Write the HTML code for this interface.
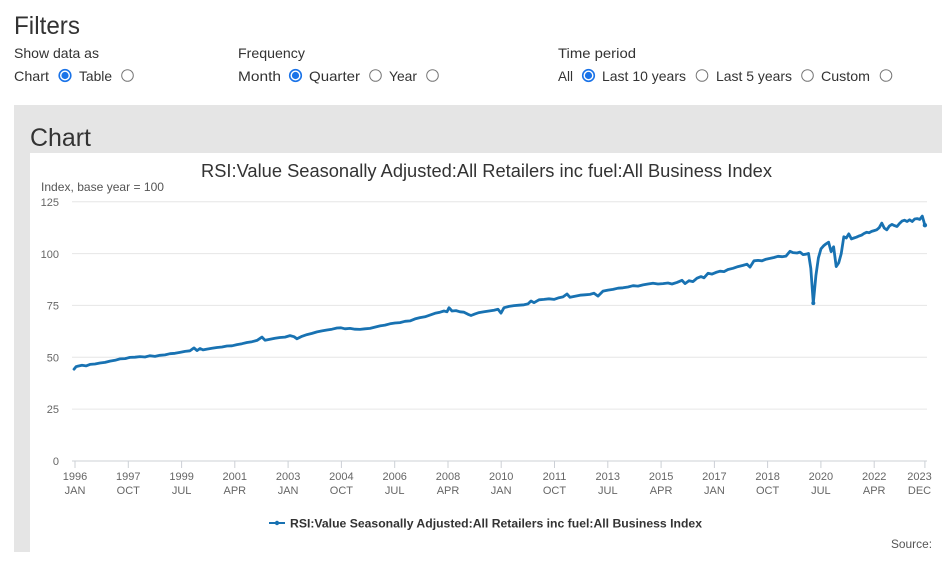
<!DOCTYPE html>
<html>
<head>
<meta charset="utf-8">
<style>
html,body{margin:0;padding:0;background:#fff;width:945px;height:564px;overflow:hidden;}
svg{display:block;}
text{font-family:"Liberation Sans",sans-serif;}
</style>
</head>
<body>
<svg width="945" height="564" viewBox="0 0 945 564" xmlns="http://www.w3.org/2000/svg">
  <!-- Filters header -->
  <text x="14" y="34" font-size="25" fill="#333" textLength="66" lengthAdjust="spacingAndGlyphs">Filters</text>
  <g font-size="14" fill="#333">
    <text x="14" y="58" textLength="85" lengthAdjust="spacingAndGlyphs">Show data as</text>
    <text x="14" y="81" textLength="35" lengthAdjust="spacingAndGlyphs">Chart</text>
    <text x="79" y="81" textLength="33" lengthAdjust="spacingAndGlyphs">Table</text>
    <text x="238" y="58" textLength="67" lengthAdjust="spacingAndGlyphs">Frequency</text>
    <text x="238" y="81" textLength="43" lengthAdjust="spacingAndGlyphs">Month</text>
    <text x="309" y="81" textLength="51" lengthAdjust="spacingAndGlyphs">Quarter</text>
    <text x="389" y="81" textLength="28" lengthAdjust="spacingAndGlyphs">Year</text>
    <text x="558" y="58" textLength="78" lengthAdjust="spacingAndGlyphs">Time period</text>
    <text x="558" y="81" textLength="15" lengthAdjust="spacingAndGlyphs">All</text>
    <text x="602" y="81" textLength="84" lengthAdjust="spacingAndGlyphs">Last 10 years</text>
    <text x="716" y="81" textLength="76" lengthAdjust="spacingAndGlyphs">Last 5 years</text>
    <text x="821" y="81" textLength="49" lengthAdjust="spacingAndGlyphs">Custom</text>
  </g>
  <!-- radios -->
  <g>
    <circle cx="65" cy="75.5" r="5.8" fill="#fff" stroke="#1a73e8" stroke-width="1.6"/>
    <circle cx="65" cy="75.5" r="3.6" fill="#1a73e8"/>
    <circle cx="127.5" cy="75.5" r="5.8" fill="#fff" stroke="#777" stroke-width="1"/>
    <circle cx="295.5" cy="75.5" r="5.8" fill="#fff" stroke="#1a73e8" stroke-width="1.6"/>
    <circle cx="295.5" cy="75.5" r="3.6" fill="#1a73e8"/>
    <circle cx="375.5" cy="75.5" r="5.8" fill="#fff" stroke="#777" stroke-width="1"/>
    <circle cx="432.5" cy="75.5" r="5.8" fill="#fff" stroke="#777" stroke-width="1"/>
    <circle cx="588.5" cy="75.5" r="5.8" fill="#fff" stroke="#1a73e8" stroke-width="1.6"/>
    <circle cx="588.5" cy="75.5" r="3.6" fill="#1a73e8"/>
    <circle cx="702" cy="75.5" r="5.8" fill="#fff" stroke="#777" stroke-width="1"/>
    <circle cx="807.5" cy="75.5" r="5.8" fill="#fff" stroke="#777" stroke-width="1"/>
    <circle cx="886" cy="75.5" r="5.8" fill="#fff" stroke="#777" stroke-width="1"/>
  </g>

  <!-- gray panel -->
  <rect x="14" y="105" width="928" height="447" fill="#e5e5e5"/>
  <text x="30" y="146" font-size="25" fill="#333" textLength="61" lengthAdjust="spacingAndGlyphs">Chart</text>
  <rect x="30" y="153" width="912" height="399" fill="#fff"/>

  <!-- chart title -->
  <text x="201" y="177" font-size="18" fill="#333" textLength="571" lengthAdjust="spacingAndGlyphs">RSI:Value Seasonally Adjusted:All Retailers inc fuel:All Business Index</text>
  <text x="41" y="191" font-size="12" fill="#555" textLength="123" lengthAdjust="spacingAndGlyphs">Index, base year = 100</text>

  <!-- grid -->
  <g stroke="#e6e6e6" stroke-width="1">
    <line x1="72" y1="201.7" x2="927" y2="201.7"/>
    <line x1="72" y1="253.6" x2="927" y2="253.6"/>
    <line x1="72" y1="305.4" x2="927" y2="305.4"/>
    <line x1="72" y1="357.3" x2="927" y2="357.3"/>
    <line x1="72" y1="409.1" x2="927" y2="409.1"/>
  </g>
  <line x1="72" y1="461" x2="927" y2="461" stroke="#ccd0d6" stroke-width="1"/>
  <g stroke="#ccd0d6" stroke-width="1">
    <line x1="75" y1="461" x2="75" y2="468"/>
    <line x1="128.3" y1="461" x2="128.3" y2="468"/>
    <line x1="181.6" y1="461" x2="181.6" y2="468"/>
    <line x1="234.8" y1="461" x2="234.8" y2="468"/>
    <line x1="288.1" y1="461" x2="288.1" y2="468"/>
    <line x1="341.4" y1="461" x2="341.4" y2="468"/>
    <line x1="394.7" y1="461" x2="394.7" y2="468"/>
    <line x1="448" y1="461" x2="448" y2="468"/>
    <line x1="501.2" y1="461" x2="501.2" y2="468"/>
    <line x1="554.5" y1="461" x2="554.5" y2="468"/>
    <line x1="607.8" y1="461" x2="607.8" y2="468"/>
    <line x1="661.1" y1="461" x2="661.1" y2="468"/>
    <line x1="714.4" y1="461" x2="714.4" y2="468"/>
    <line x1="767.6" y1="461" x2="767.6" y2="468"/>
    <line x1="820.9" y1="461" x2="820.9" y2="468"/>
    <line x1="874.2" y1="461" x2="874.2" y2="468"/>
    <line x1="924.9" y1="461" x2="924.9" y2="468"/>
  </g>

  <!-- y labels -->
  <g font-size="11" fill="#666" text-anchor="end">
    <text x="59" y="206">125</text>
    <text x="59" y="258">100</text>
    <text x="59" y="309.5">75</text>
    <text x="59" y="361.5">50</text>
    <text x="59" y="413">25</text>
    <text x="59" y="465">0</text>
  </g>

  <!-- x labels -->
  <g font-size="11" fill="#666" text-anchor="middle">
    <text x="75" y="480">1996</text><text x="75" y="494">JAN</text>
    <text x="128.3" y="480">1997</text><text x="128.3" y="494">OCT</text>
    <text x="181.6" y="480">1999</text><text x="181.6" y="494">JUL</text>
    <text x="234.8" y="480">2001</text><text x="234.8" y="494">APR</text>
    <text x="288.1" y="480">2003</text><text x="288.1" y="494">JAN</text>
    <text x="341.4" y="480">2004</text><text x="341.4" y="494">OCT</text>
    <text x="394.7" y="480">2006</text><text x="394.7" y="494">JUL</text>
    <text x="448" y="480">2008</text><text x="448" y="494">APR</text>
    <text x="501.2" y="480">2010</text><text x="501.2" y="494">JAN</text>
    <text x="554.5" y="480">2011</text><text x="554.5" y="494">OCT</text>
    <text x="607.8" y="480">2013</text><text x="607.8" y="494">JUL</text>
    <text x="661.1" y="480">2015</text><text x="661.1" y="494">APR</text>
    <text x="714.4" y="480">2017</text><text x="714.4" y="494">JAN</text>
    <text x="767.6" y="480">2018</text><text x="767.6" y="494">OCT</text>
    <text x="820.9" y="480">2020</text><text x="820.9" y="494">JUL</text>
    <text x="874.2" y="480">2022</text><text x="874.2" y="494">APR</text>
    <text x="919.5" y="480">2023</text><text x="919.5" y="494">DEC</text>
  </g>

  <!-- series -->
  <polyline fill="none" stroke="#1872b2" stroke-width="2.8" stroke-linejoin="round" stroke-linecap="round" points="
74,369.2 76,366.7 78,366.1 82,365.3 86,365.9 90,364.4 95,364.0 100,363.0 105,362.4 110,361.1 115,360.3 120,358.9 125,358.6 130,357.4 135,357.2 140,356.6 145,357.0 150,355.7 155,356.4 160,355.3 165,354.9 170,353.7 175,353.3 180,352.4 185,351.4 190,350.8 194,347.9 197,350.6 200,348.5 203,349.9 207,349.1 212,348.3 217,347.5 222,347.0 227,346.0 232,345.8 237,344.6 242,343.7 247,342.5 252,341.7 257,340.4 262,337.1 265,340.2 270,339.2 275,338.3 280,337.5 285,337.1 290,335.6 294,336.7 297,338.8 302,336.3 307,334.6 312,333.4 317,331.9 322,330.9 327,330.0 332,329.2 337,328.0 341,327.8 345,328.8 350,328.4 355,329.2 360,329.4 365,328.8 370,328.4 375,327.1 380,325.9 385,325.1 390,323.8 395,323.0 400,322.6 405,321.3 410,320.9 415,318.9 420,317.6 425,316.8 430,315.1 435,313.3 440,312.2 444,311.0 447,311.8 449,307.7 452,311.0 456,310.6 460,311.8 464,312.2 468,314.3 471,315.5 475,313.9 479,312.6 484,311.8 489,311.0 494,310.2 498,309.3 501,313.1 504,307.7 509,306.4 514,305.6 519,305.2 524,304.8 528,303.9 531,301.0 534,302.7 539,299.8 544,299.4 549,298.8 554,299.4 559,297.7 563,296.9 567,294.0 570,297.3 575,296.3 580,295.2 585,294.8 590,294.4 594,293.2 598,296.1 603,291.1 608,290.1 613,289.4 618,288.2 623,287.8 628,287.0 633,285.7 638,286.1 643,284.9 648,284.0 653,283.2 658,284.0 663,283.6 668,283.0 672,284.0 677,282.4 682,280.3 685,283.6 689,280.7 693,281.6 697,278.2 701,276.6 704,277.8 708,273.3 712,274.1 716,272.4 720,271.2 724,271.6 728,269.5 733,268.3 738,266.6 743,265.4 747,264.2 750,267.1 754,260.8 758,260.4 762,260.8 766,259.2 770,258.4 774,257.5 778,256.3 782,256.7 786,256.1 790,251.3 793,252.6 797,253.0 800,252.1 803,254.6 806,254.2 808.5,253.4 810.8,268.3 813.3,303.1 815.9,275.6 818.4,257.9 821.0,248.8 823.5,245.9 826.0,243.9 828.6,242.2 831.1,251.7 833.6,246.8 836.2,266.6 838.7,262.9 841.2,253.8 843.8,236.8 846.3,238.0 848.8,233.9 851.4,238.9 853.9,238.0 856.4,237.2 859.0,236.0 861.5,235.2 864.0,233.5 866.6,232.3 869.1,232.7 871.6,231.4 874.2,230.6 876.7,229.8 879.2,227.7 881.8,223.1 884.3,228.1 886.8,229.8 889.4,226.0 891.9,224.4 894.4,225.6 897.0,226.5 899.5,223.5 902.0,221.1 904.6,220.2 907.1,221.5 909.6,219.8 912.2,221.5 914.7,219.0 917.2,218.6 919.8,219.4 922.3,216.1 924.9,225.2"/>
  <circle cx="813.3" cy="303.1" r="2" fill="#1872b2"/>
  <circle cx="924.9" cy="225.2" r="2.2" fill="#1872b2"/>

  <!-- legend -->
  <line x1="269" y1="523" x2="285" y2="523" stroke="#1872b2" stroke-width="2"/>
  <circle cx="277" cy="523" r="2.2" fill="#1872b2"/>
  <text x="290" y="527.5" font-size="12" font-weight="bold" fill="#333" textLength="412" lengthAdjust="spacingAndGlyphs">RSI:Value Seasonally Adjusted:All Retailers inc fuel:All Business Index</text>

  <text x="891" y="548" font-size="12" fill="#555" textLength="41" lengthAdjust="spacingAndGlyphs">Source:</text>
</svg>
</body>
</html>
